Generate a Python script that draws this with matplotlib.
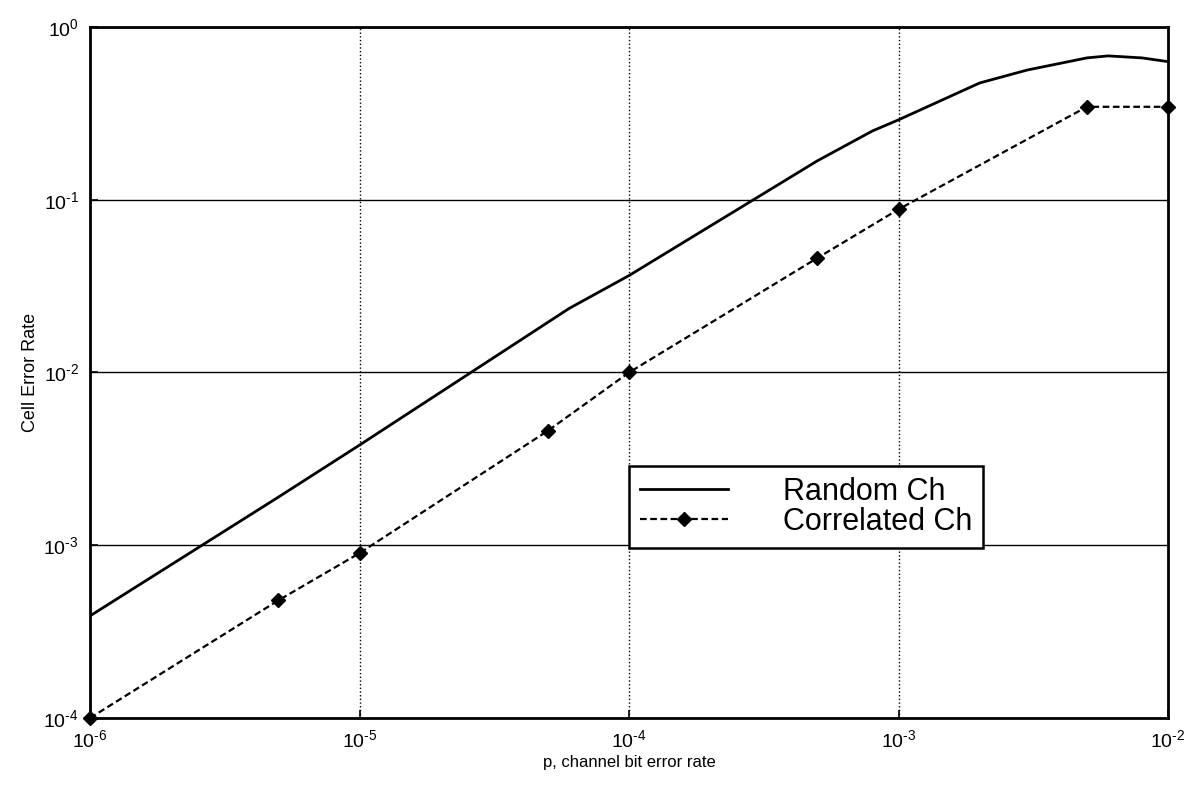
import numpy as np
import matplotlib
matplotlib.use("Agg")
import matplotlib.pyplot as plt

plt.rcParams['font.family'] = ['Liberation Sans', 'DejaVu Sans']
plt.rcParams['mathtext.default'] = 'regular'

# channel bit error rate vs cell error rate
p_random = [1e-6, 5e-6, 1e-5, 6e-5, 1e-4, 5e-4, 8e-4, 1e-3, 2e-3, 3e-3, 5e-3, 6e-3, 8e-3, 1e-2]
cer_random = [3.9e-4, 1.9e-3, 3.8e-3, 2.35e-2, 3.64e-2, 0.168, 0.25, 0.29, 0.474, 0.563, 0.662, 0.68, 0.662, 0.63]

p_corr = [1e-6, 5e-6, 1e-5, 5e-5, 1e-4, 5e-4, 1e-3, 5e-3, 1e-2]
cer_corr = [1e-4, 4.8e-4, 9e-4, 4.6e-3, 1e-2, 4.6e-2, 8.8e-2, 0.345, 0.345]

xticks = [1e-6, 1e-5, 1e-4, 1e-3, 1e-2]
yticks = [1e-4, 1e-3, 1e-2, 1e-1, 1e0]


def pow_label(v):
    e = int(round(np.log10(v)))
    # short hyphen instead of the wide math minus
    s = str(e).replace('-', '\u2010')
    return '$10^{%s}$' % s


fig = plt.figure(figsize=(11.97, 7.88), dpi=100)
ax = fig.add_axes([0.0752, 0.0888, 0.9006, 0.877])

ax.plot(p_random, cer_random, color='black', lw=2, label='Random Ch')
ax.plot(p_corr, cer_corr, color='black', lw=1.6, ls=(0, (3, 1.6)),
        marker='D', markersize=7, label='Correlated Ch', clip_on=False)

ax.set_xscale('log')
ax.set_yscale('log')
ax.set_xlim(1e-6, 1e-2)
ax.set_ylim(1e-4, 1e0)

ax.set_xticks(xticks)
ax.set_yticks(yticks)
ax.set_xticklabels([pow_label(v) for v in xticks])
ax.set_yticklabels([pow_label(v) for v in yticks])
ax.minorticks_off()
ax.tick_params(direction='in', length=6, width=1.2, labelsize=14, pad=8)

ax.grid(True, axis='x', color='black', ls=':', lw=1)
ax.grid(True, axis='y', color='black', ls='-', lw=1)
for s in ax.spines.values():
    s.set_linewidth(2)

ax.set_xlabel('p, channel bit error rate', fontsize=12, labelpad=3)
ax.set_ylabel('Cell Error Rate', fontsize=13, labelpad=3)

leg = ax.legend(loc='upper left', bbox_to_anchor=(0.5, 0.364), fontsize=22,
                frameon=True, fancybox=False, handlelength=2.9, handletextpad=1.8,
                borderpad=0.35, labelspacing=0.0, borderaxespad=0)
leg.get_frame().set_edgecolor('black')
leg.get_frame().set_linewidth(1.8)
leg.get_frame().set_alpha(1)

fig.savefig('out.png', dpi=100)
